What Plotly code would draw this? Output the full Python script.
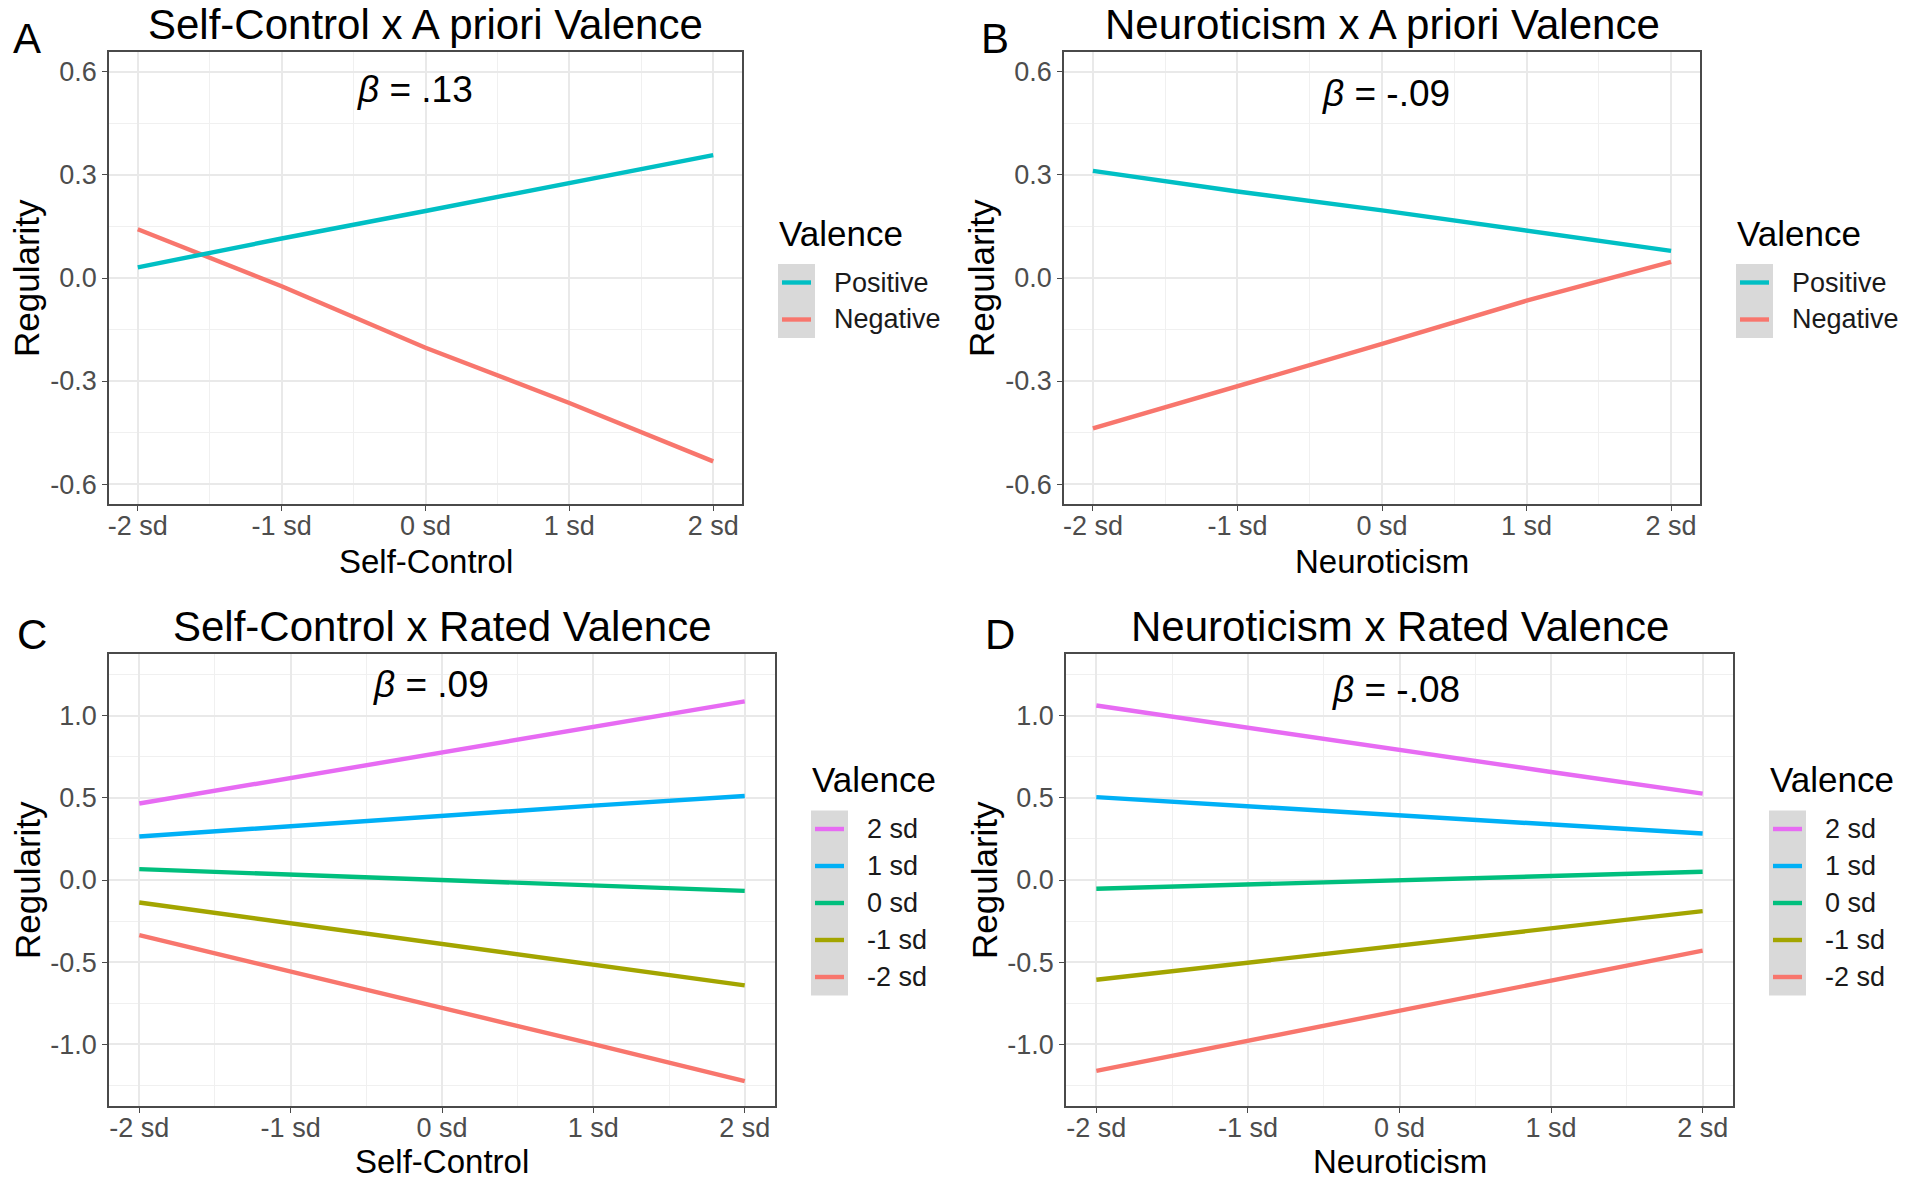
import plotly.graph_objects as go

W, H = 1905, 1180
FONT = "Liberation Sans, Arial, Helvetica, sans-serif"

# ---------------- data ----------------
sd_x = [-2, -1, 0, 1, 2]
sd_tick_labels = ["-2 sd", "-1 sd", "0 sd", "1 sd", "2 sd"]

y_ticks_top = [-0.6, -0.3, 0.0, 0.3, 0.6]
y_labels_top = ["-0.6", "-0.3", "0.0", "0.3", "0.6"]
y_ticks_bottom = [-1.0, -0.5, 0.0, 0.5, 1.0]
y_labels_bottom = ["-1.0", "-0.5", "0.0", "0.5", "1.0"]

apriori_names = ["Positive", "Negative"]
apriori_colors = ["#00BFC4", "#F8766D"]

rated_names = ["2 sd", "1 sd", "0 sd", "-1 sd", "-2 sd"]
rated_colors = ["#E76BF3", "#00B0F6", "#00BF7D", "#A3A500", "#F8766D"]

# Panel A: Self-Control x A priori Valence
a_positive = [0.031, 0.115, 0.195, 0.277, 0.358]
a_negative = [0.142, -0.024, -0.203, -0.364, -0.534]
# Panel B: Neuroticism x A priori Valence
b_positive = [0.312, 0.252, 0.197, 0.137, 0.079]
b_negative = [-0.438, -0.316, -0.192, -0.066, 0.047]
# Panel C: Self-Control x Rated Valence
c_2sd = [0.466, 0.622, 0.782, 0.937, 1.088]
c_1sd = [0.265, 0.329, 0.393, 0.453, 0.512]
c_0sd = [0.066, 0.034, 0.0, -0.034, -0.066]
c_m1sd = [-0.137, -0.263, -0.391, -0.517, -0.642]
c_m2sd = [-0.336, -0.555, -0.779, -1.0, -1.225]
# Panel D: Neuroticism x Rated Valence
d_2sd = [1.063, 0.926, 0.793, 0.658, 0.526]
d_1sd = [0.505, 0.45, 0.393, 0.338, 0.283]
d_0sd = [-0.053, -0.027, 0.0, 0.025, 0.05]
d_m1sd = [-0.608, -0.503, -0.398, -0.293, -0.19]
d_m2sd = [-1.163, -0.981, -0.795, -0.613, -0.43]

panels = [
    dict(letter="A", title="Self-Control x A priori Valence", xlabel="Self-Control",
         beta="<i>β</i> = .13", beta_y=0.548, beta_x=-0.07,
         names=apriori_names, colors=apriori_colors, series=[a_positive, a_negative],
         yt=y_ticks_top, yl=y_labels_top, yr=[-0.658, 0.658], yminor=[-0.45, -0.15, 0.15, 0.45],
         box=(109, 742, 52, 504), letter_pos=(27, 39), xlabel_y=561),
    dict(letter="B", title="Neuroticism x A priori Valence", xlabel="Neuroticism",
         beta="<i>β</i> = -.09", beta_y=0.536, beta_x=0.03,
         names=apriori_names, colors=apriori_colors, series=[b_positive, b_negative],
         yt=y_ticks_top, yl=y_labels_top, yr=[-0.658, 0.658], yminor=[-0.45, -0.15, 0.15, 0.45],
         box=(1064, 1700, 52, 504), letter_pos=(995, 39), xlabel_y=561),
    dict(letter="C", title="Self-Control x Rated Valence", xlabel="Self-Control",
         beta="<i>β</i> = .09", beta_y=1.19, beta_x=-0.07,
         names=rated_names, colors=rated_colors, series=[c_2sd, c_1sd, c_0sd, c_m1sd, c_m2sd],
         yt=y_ticks_bottom, yl=y_labels_bottom, yr=[-1.377, 1.377],
         yminor=[-1.25, -0.75, -0.25, 0.25, 0.75, 1.25],
         box=(109, 775, 654, 1106), letter_pos=(32, 634), xlabel_y=1161),
    dict(letter="D", title="Neuroticism x Rated Valence", xlabel="Neuroticism",
         beta="<i>β</i> = -.08", beta_y=1.16, beta_x=-0.02,
         names=rated_names, colors=rated_colors, series=[d_2sd, d_1sd, d_0sd, d_m1sd, d_m2sd],
         yt=y_ticks_bottom, yl=y_labels_bottom, yr=[-1.377, 1.377],
         yminor=[-1.25, -0.75, -0.25, 0.25, 0.75, 1.25],
         box=(1066, 1733, 654, 1106), letter_pos=(1000, 634), xlabel_y=1161),
]


def px(x):
    return x / W


def py(y):
    return 1 - y / H


fig = go.Figure()
annotations = []
shapes = []
layout_axes = {}

for i, p in enumerate(panels):
    n = "" if i == 0 else str(i + 1)
    xa, ya = "x" + n, "y" + n
    x0, x1, y0, y1 = p["box"]
    for name, color, vals in reversed(list(zip(p["names"], p["colors"], p["series"]))):
        fig.add_trace(go.Scatter(x=sd_x, y=vals, mode="lines", name=name,
                                 line=dict(color=color, width=4.4),
                                 showlegend=False, xaxis=xa, yaxis=ya, hoverinfo="skip"))
    axis_common = dict(showline=True, mirror=True, linecolor="#4A4A4A", linewidth=1.6,
                       ticks="outside", ticklen=5, tickwidth=1.4, tickcolor="#4A4A4A",
                       showgrid=True, gridcolor="#E9E9E9", gridwidth=1.6, zeroline=False,
                       tickfont=dict(family=FONT, size=27, color="#4D4D4D"))
    layout_axes["xaxis" + n] = dict(
        axis_common, domain=[px(x0), px(x1)], range=[-2.2, 2.2], anchor=ya,
        tickmode="array", tickvals=sd_x, ticktext=sd_tick_labels, ticklabelstandoff=-8,
        minor=dict(tickmode="array", tickvals=[-1.5, -0.5, 0.5, 1.5], showgrid=True,
                   gridcolor="#F0F0F0", gridwidth=1, ticks=""))
    layout_axes["yaxis" + n] = dict(
        axis_common, domain=[py(y1), py(y0)], range=p["yr"], anchor=xa,
        tickmode="array", tickvals=p["yt"], ticktext=p["yl"],
        minor=dict(tickmode="array", tickvals=p["yminor"], showgrid=True,
                   gridcolor="#F0F0F0", gridwidth=1, ticks=""))
    cx = (x0 + x1) / 2
    cy = (y0 + y1) / 2
    title_y = y0 - 28
    annotations.append(dict(text=p["title"], x=px(cx), y=py(title_y), xref="paper", yref="paper",
                            xanchor="center", yanchor="middle", showarrow=False,
                            font=dict(family=FONT, size=42, color="black")))
    lx, ly = p["letter_pos"]
    annotations.append(dict(text=p["letter"], x=px(lx), y=py(ly), xref="paper", yref="paper",
                            xanchor="center", yanchor="middle", showarrow=False,
                            font=dict(family=FONT, size=42, color="black")))
    annotations.append(dict(text=p["xlabel"], x=px(cx), y=py(p["xlabel_y"]),
                            xref="paper", yref="paper",
                            xanchor="center", yanchor="middle", showarrow=False,
                            font=dict(family=FONT, size=33, color="black")))
    annotations.append(dict(text="Regularity", x=px(x0 - 82), y=py(cy), xref="paper", yref="paper",
                            xanchor="center", yanchor="middle", showarrow=False, textangle=-90,
                            font=dict(family=FONT, size=35, color="black")))
    annotations.append(dict(text=p["beta"], x=p["beta_x"], y=p["beta_y"], xref=xa, yref=ya,
                            xanchor="center", yanchor="middle", showarrow=False,
                            font=dict(family=FONT, size=37, color="black")))
    # legend (ggplot-style)
    k = len(p["names"])
    key_h = 37
    top = cy - (46 + key_h * k) / 2
    left = x1 + 36
    annotations.append(dict(text="Valence", x=px(left - 1), y=py(top + 15), xref="paper", yref="paper",
                            xanchor="left", yanchor="middle", showarrow=False,
                            font=dict(family=FONT, size=35, color="black")))
    box_top = top + 46
    shapes.append(dict(type="rect", xref="paper", yref="paper",
                       x0=px(left), x1=px(left + 37), y0=py(box_top), y1=py(box_top + key_h * k),
                       fillcolor="#D9D9D9", line=dict(width=0), layer="below"))
    for j, (name, color) in enumerate(zip(p["names"], p["colors"])):
        yc = box_top + key_h * j + key_h / 2
        shapes.append(dict(type="line", xref="paper", yref="paper",
                           x0=px(left + 4), x1=px(left + 33), y0=py(yc), y1=py(yc),
                           line=dict(color=color, width=4.4)))
        annotations.append(dict(text=name, x=px(left + 54), y=py(yc), xref="paper", yref="paper",
                                xanchor="left", yanchor="middle", showarrow=False,
                                font=dict(family=FONT, size=27, color="#1A1A1A")))

fig.update_layout(
    width=W, height=H, margin=dict(l=0, r=0, t=0, b=0),
    paper_bgcolor="white", plot_bgcolor="white",
    showlegend=False, annotations=annotations, shapes=shapes,
    **layout_axes,
)

fig.write_html("out.html")
